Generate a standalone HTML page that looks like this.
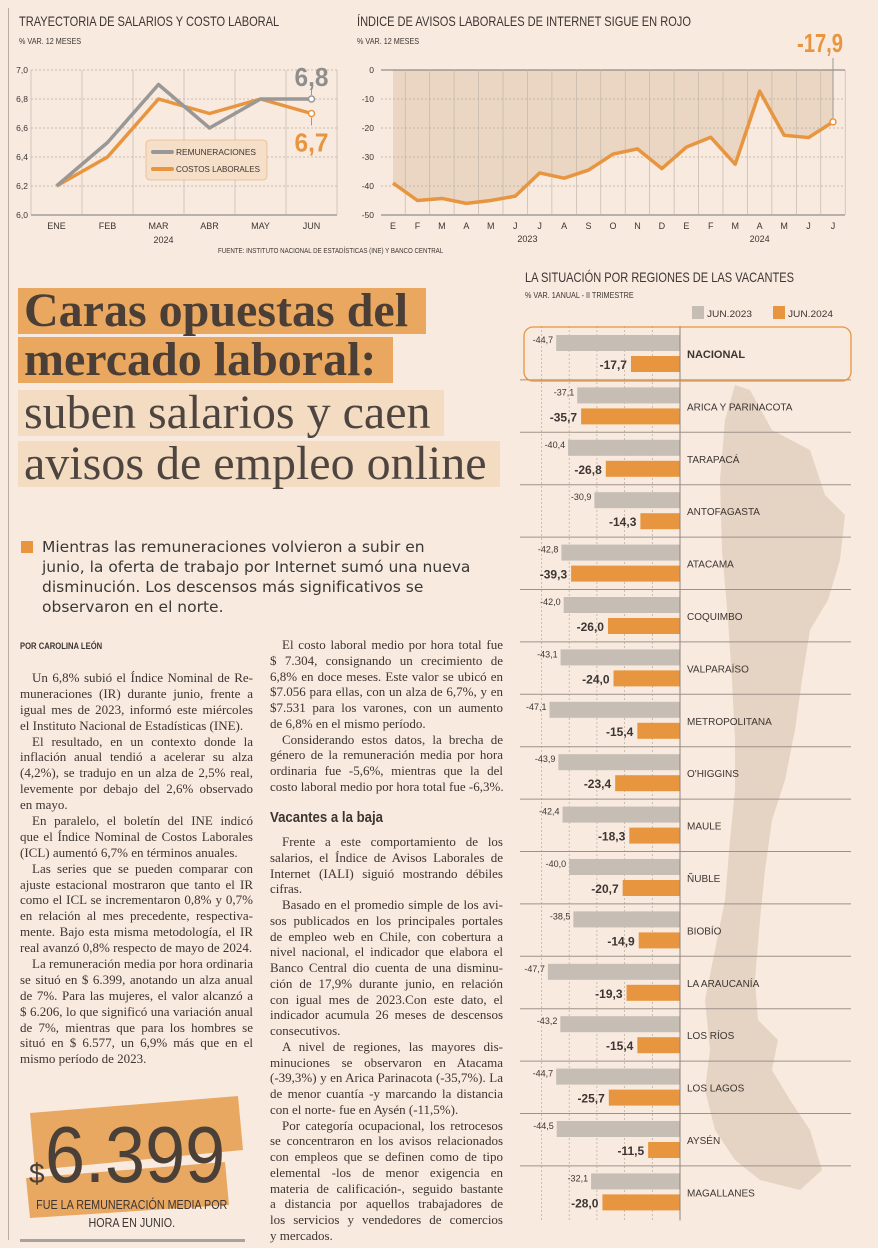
<!DOCTYPE html>
<html lang="es"><head><meta charset="utf-8">
<style>
*{margin:0;padding:0;box-sizing:border-box}
body{width:878px;height:1248px;background:#f8eadf;position:relative;overflow:hidden;font-family:"Liberation Sans",sans-serif;color:#3d3532}
.abs{position:absolute}
.ttl{font-family:"Liberation Sans",sans-serif;font-size:14px;color:#3d3532;white-space:nowrap;transform:scaleX(0.79);transform-origin:0 0}
.sub{font-size:8.5px;color:#3d3532;white-space:nowrap;transform:scaleX(0.85);transform-origin:0 0}
.hl{position:absolute;font-family:"Liberation Serif",serif;font-size:48px;line-height:46px;color:#4a3e36;white-space:nowrap;padding:0 6px}
.col{position:absolute;font-family:"Liberation Serif",serif;font-size:13px;color:#3d3532}
.col div{white-space:nowrap;text-align:justify;text-align-last:justify;height:15.9px;line-height:15.9px}
.col.b div{height:15.75px;line-height:15.75px}
.col div.l{text-align-last:left}
.col div.i{text-indent:12px}
</style></head><body>
<div class="abs" style="left:8px;top:8px;width:1px;height:1232px;background:#b9aca2"></div>

<div class="abs ttl" style="left:19px;top:13px">TRAYECTORIA DE SALARIOS Y COSTO LABORAL</div>
<div class="abs sub" style="left:19px;top:36px">% VAR. 12 MESES</div>
<div class="abs ttl" style="left:357px;top:13px">ÍNDICE DE AVISOS LABORALES DE INTERNET SIGUE EN ROJO</div>
<div class="abs sub" style="left:357px;top:36px">% VAR. 12 MESES</div>
<div class="abs" style="left:218px;top:248px;font-size:7px;white-space:nowrap;transform:scaleX(0.88);transform-origin:0 0">FUENTE: INSTITUTO NACIONAL DE ESTADÍSTICAS (INE) Y BANCO CENTRAL</div>

<svg class="abs" id="c1" style="left:0;top:0" width="350" height="250"></svg>
<svg class="abs" id="c2" style="left:350px;top:0" width="528" height="250"></svg>

<div class="hl" style="left:18px;top:288px;background:#e9a75f;font-weight:bold;width:408px;height:46px">Caras opuestas del</div>
<div class="hl" style="left:18px;top:337px;background:#e9a75f;font-weight:bold;width:375px;height:46px">mercado laboral:</div>
<div class="hl" style="left:18px;top:390px;background:#f4dcc2;width:426px;height:46px;color:#4e4540">suben salarios y caen</div>
<div class="hl" style="left:18px;top:441px;background:#f4dcc2;width:482px;height:46px;color:#4e4540">avisos de empleo online</div>

<div class="abs" style="left:21px;top:541px;width:12px;height:12px;background:#e8953f"></div>
<div class="abs" style="left:42px;top:537px;font-family:'DejaVu Sans',sans-serif;font-size:15.5px;line-height:20px;color:#3c3835;white-space:nowrap">Mientras las remuneraciones volvieron a subir en<br>junio, la oferta de trabajo por Internet sumó una nueva<br>disminución. Los descensos más significativos se<br>observaron en el norte.</div>

<div class="abs" style="left:20px;top:641px;font-size:9px;font-weight:bold;transform:scaleX(0.85);transform-origin:0 0;white-space:nowrap">POR CAROLINA LEÓN</div>

<div class="col" style="left:20px;top:670px;width:233px">
<div class="i">Un 6,8% subió el Índice Nominal de Re-</div>
<div>muneraciones (IR) durante junio, frente a</div>
<div>igual mes de 2023, informó este miércoles</div>
<div class="l">el Instituto Nacional de Estadísticas (INE).</div>
<div class="i">El resultado, en un contexto donde la</div>
<div>inflación anual tendió a acelerar su alza</div>
<div>(4,2%), se tradujo en un alza de 2,5% real,</div>
<div>levemente por debajo del 2,6% observado</div>
<div class="l">en mayo.</div>
<div class="i">En paralelo, el boletín del INE indicó</div>
<div>que el Índice Nominal de Costos Laborales</div>
<div class="l">(ICL) aumentó 6,7% en términos anuales.</div>
<div class="i">Las series que se pueden comparar con</div>
<div>ajuste estacional mostraron que tanto el IR</div>
<div>como el ICL se incrementaron 0,8% y 0,7%</div>
<div>en relación al mes precedente, respectiva-</div>
<div>mente. Bajo esta misma metodología, el IR</div>
<div class="l">real avanzó 0,8% respecto de mayo de 2024.</div>
<div class="i">La remuneración media por hora ordinaria</div>
<div>se situó en $ 6.399, anotando un alza anual</div>
<div>de 7%. Para las mujeres, el valor alcanzó a</div>
<div>$ 6.206, lo que significó una variación anual</div>
<div>de 7%, mientras que para los hombres se</div>
<div>situó en $ 6.577, un 6,9% más que en el</div>
<div class="l">mismo período de 2023.</div>
</div>

<div class="col b" style="left:270px;top:637px;width:233px">
<div class="i">El costo laboral medio por hora total fue</div>
<div>$ 7.304, consignando un crecimiento de</div>
<div>6,8% en doce meses. Este valor se ubicó en</div>
<div>$7.056 para ellas, con un alza de 6,7%, y en</div>
<div>$7.531 para los varones, con un aumento</div>
<div class="l">de 6,8% en el mismo período.</div>
<div class="i">Considerando estos datos, la brecha de</div>
<div>género de la remuneración media por hora</div>
<div>ordinaria fue -5,6%, mientras que la del</div>
<div class="l">costo laboral medio por hora total fue -6,3%.</div>
</div>
<div class="abs" style="left:270px;top:809px;font-size:15px;font-weight:bold;transform:scaleX(0.88);transform-origin:0 0;white-space:nowrap">Vacantes a la baja</div>
<div class="col b" style="left:270px;top:834px;width:233px">
<div class="i">Frente a este comportamiento de los</div>
<div>salarios, el Índice de Avisos Laborales de</div>
<div>Internet (IALI) siguió mostrando débiles</div>
<div class="l">cifras.</div>
<div class="i">Basado en el promedio simple de los avi-</div>
<div>sos publicados en los principales portales</div>
<div>de empleo web en Chile, con cobertura a</div>
<div>nivel nacional, el indicador que elabora el</div>
<div>Banco Central dio cuenta de una disminu-</div>
<div>ción de 17,9% durante junio, en relación</div>
<div>con igual mes de 2023.Con este dato, el</div>
<div>indicador acumula 26 meses de descensos</div>
<div class="l">consecutivos.</div>
<div class="i">A nivel de regiones, las mayores dis-</div>
<div>minuciones se observaron en Atacama</div>
<div>(-39,3%) y en Arica Parinacota (-35,7%). La</div>
<div>de menor cuantía -y marcando la distancia</div>
<div class="l">con el norte- fue en Aysén (-11,5%).</div>
<div class="i">Por categoría ocupacional, los retrocesos</div>
<div>se concentraron en los avisos relacionados</div>
<div>con empleos que se definen como de tipo</div>
<div>elemental -los de menor exigencia en</div>
<div>materia de calificación-, seguido bastante</div>
<div>a distancia por aquellos trabajadores de</div>
<div>los servicios y vendedores de comercios</div>
<div class="l">y mercados.</div>
</div>

<svg class="abs" style="left:0;top:1090px" width="260" height="140">
<polygon points="30,23 238,6 243,60 35,80" fill="#e9a862"/>
<polygon points="26,88 225,72 229,115 30,128" fill="#e9a862"/>
</svg>
<div class="abs" style="left:29px;top:1158px;font-size:28px;color:#4a4038">$</div>
<div class="abs" style="left:45px;top:1115px;font-size:80px;line-height:80px;color:#4a4038;white-space:nowrap;transform:scaleX(0.9);transform-origin:0 0">6.399</div>
<div class="abs" style="left:32px;top:1196px;width:232px;text-align:center;font-size:12.5px;line-height:18px;color:#3d3532;white-space:nowrap;transform:scaleX(0.86);transform-origin:0 0">FUE LA REMUNERACIÓN MEDIA POR<br>HORA EN JUNIO.</div>
<div class="abs" style="left:20px;top:1239px;width:225px;height:3px;background:#a9a29c"></div>

<div class="abs ttl" style="left:525px;top:269px">LA SITUACIÓN POR REGIONES DE LAS VACANTES</div>
<div class="abs sub" style="left:525px;top:290px">% VAR. 1ANUAL -  II TRIMESTRE</div>
<svg class="abs" id="c3" style="left:510px;top:300px" width="368" height="930"></svg>

<script>
const NS="http://www.w3.org/2000/svg";
function mk(p,tag,a,txt){const e=document.createElementNS(NS,tag);for(const k in a)e.setAttribute(k,a[k]);if(txt!==undefined)e.textContent=txt;p.appendChild(e);return e;}

const c1Months=["ENE","FEB","MAR","ABR","MAY","JUN"];
const c1Rem=[6.2,6.5,6.9,6.6,6.8,6.8];
const c1Cost=[6.2,6.4,6.8,6.7,6.8,6.7];
const c1Ticks=[6.0,6.2,6.4,6.6,6.8,7.0];

const c2Months=["E","F","M","A","M","J","J","A","S","O","N","D","E","F","M","A","M","J","J"];
const c2Vals=[-39,-45,-44.3,-46,-45,-43.5,-35.5,-37.3,-34.5,-29,-27.2,-34,-26.6,-23.2,-32.5,-7.3,-22.5,-23.3,-17.9];
const c2Ticks=[0,-10,-20,-30,-40,-50];

const regions=["NACIONAL","ARICA Y PARINACOTA","TARAPACÁ","ANTOFAGASTA","ATACAMA","COQUIMBO","VALPARAÍSO","METROPOLITANA","O'HIGGINS","MAULE","ÑUBLE","BIOBÍO","LA ARAUCANÍA","LOS RÍOS","LOS LAGOS","AYSÉN","MAGALLANES"];
const jun2023=[-44.7,-37.1,-40.4,-30.9,-42.8,-42.0,-43.1,-47.1,-43.9,-42.4,-40.0,-38.5,-47.7,-43.2,-44.7,-44.5,-32.1];
const jun2024=[-17.7,-35.7,-26.8,-14.3,-39.3,-26.0,-24.0,-15.4,-23.4,-18.3,-20.7,-14.9,-19.3,-15.4,-25.7,-11.5,-28.0];
const c3Grid=[-10,-20,-30,-40,-50];

const fmt=v=>v.toFixed(1).replace(".",",");

(function(){
 const s=document.getElementById("c1");
 const L=31,R=337,T=70,B=215,step=(R-L)/c1Months.length;
 const x=i=>L+step*(i+0.5), y=v=>B-(v-6.0)/1.0*(B-T);
 c1Ticks.forEach(t=>{
  const g=mk(s,"line",{x1:L,x2:R,y1:y(t),y2:y(t),stroke:t===6.0?"#777":"#b5aaa0","stroke-width":t===6.0?1:0.7,"stroke-dasharray":t===6.0?"":"2,2"});
  
  
  const tl=mk(s,"text",{x:L-3,y:y(t)+3,"text-anchor":"end","font-size":"8.5","fill":"#3d3532","font-family":"Liberation Sans"},fmt(t));
  
  
 });
 for(let i=0;i<=c1Months.length;i++){
  const v=mk(s,"line",{x1:L+step*i,x2:L+step*i,y1:T,y2:B,stroke:"#c2b7ad","stroke-width":0.7});
  
  
 }
 c1Months.forEach((m,i)=>{
  const t=mk(s,"text",{x:x(i),y:B+14,"text-anchor":"middle","font-size":"9","fill":"#3d3532","font-family":"Liberation Sans"},m);
  
  
 });
 const yr=mk(s,"text",{x:x(2)+5,y:B+28,"text-anchor":"middle","font-size":"9","fill":"#3d3532","font-family":"Liberation Sans"},"2024");
 
 
 const lg=mk(s,"rect",{x:146,y:140,width:121,height:40,rx:4,fill:"#f6dfc8",stroke:"#e8b98a","stroke-width":0.8});
 
 
 const l1=mk(s,"line",{x1:153,x2:172,y1:152,y2:152,stroke:"#9a9896","stroke-width":4,"stroke-linecap":"round"});
 
 
 const t1=mk(s,"text",{x:176,y:155,"font-size":"8.5","fill":"#3d3532","font-family":"Liberation Sans",textLength:80,lengthAdjust:"spacingAndGlyphs"},"REMUNERACIONES");
 
 
 const l2=mk(s,"line",{x1:153,x2:172,y1:169,y2:169,stroke:"#e8953f","stroke-width":4,"stroke-linecap":"round"});
 
 
 const t2=mk(s,"text",{x:176,y:172,"font-size":"8.5","fill":"#3d3532","font-family":"Liberation Sans",textLength:84,lengthAdjust:"spacingAndGlyphs"},"COSTOS LABORALES");
 
 
 const pc=mk(s,"polyline",{points:c1Cost.map((v,i)=>x(i)+","+y(v)).join(" "),fill:"none",stroke:"#e8953f","stroke-width":3.5,"stroke-linejoin":"round"});
 
 
 const pr=mk(s,"polyline",{points:c1Rem.map((v,i)=>x(i)+","+y(v)).join(" "),fill:"none",stroke:"#9a9896","stroke-width":3.5,"stroke-linejoin":"round"});
 
 
 const n=c1Months.length-1;
 const d1=mk(s,"circle",{cx:x(n),cy:y(c1Rem[n]),r:3,fill:"#fff",stroke:"#9a9896","stroke-width":1.5});
 
 
 const d2=mk(s,"circle",{cx:x(n),cy:y(c1Cost[n]),r:3,fill:"#fff",stroke:"#e8953f","stroke-width":1.5});
 
 
 mk(s,"line",{x1:x(n),x2:x(n),y1:y(c1Rem[n])-4,y2:y(c1Rem[n])-10,stroke:"#9a9896","stroke-width":1});
 mk(s,"line",{x1:x(n),x2:x(n),y1:y(c1Cost[n])+4,y2:y(c1Cost[n])+12,stroke:"#9a9896","stroke-width":1});
 const v1=mk(s,"text",{x:x(n),y:y(c1Rem[n])-13,"text-anchor":"middle","font-size":"26","font-weight":"bold","fill":"#8f8e8c","font-family":"Liberation Sans",textLength:34,lengthAdjust:"spacingAndGlyphs"},fmt(c1Rem[n]));
 
 
 const v2=mk(s,"text",{x:x(n),y:y(c1Cost[n])+38,"text-anchor":"middle","font-size":"26","font-weight":"bold","fill":"#e8953f","font-family":"Liberation Sans",textLength:34,lengthAdjust:"spacingAndGlyphs"},fmt(c1Cost[n]));
 
 
})();

(function(){
 const s=document.getElementById("c2");
 const L=31,R=495,T=70,B=215,n=c2Months.length;
 const x0=43,x1=483,step=(x1-x0)/(n-1);
 const x=i=>x0+step*i, y=v=>T+(0-v)/50*(B-T);
 const area=mk(s,"polygon",{points:[x(0)+","+y(0)].concat(c2Vals.map((v,i)=>x(i)+","+y(v))).concat([x(n-1)+","+y(0)]).join(" "),fill:"#ead6c2"});
 
 
 c2Ticks.forEach(t=>{
  const g=mk(s,"line",{x1:L,x2:R,y1:y(t),y2:y(t),stroke:t===0||t===-50?"#777":"#b5aaa0","stroke-width":t===0||t===-50?1:0.7,"stroke-dasharray":t===0||t===-50?"":"2,2"});
  
  
  const tl=mk(s,"text",{x:L-7,y:y(t)+3,"text-anchor":"end","font-size":"8.5","fill":"#3d3532","font-family":"Liberation Sans"},String(t));
  
  
 });
 for(let i=0;i<n;i++){
  const v=mk(s,"line",{x1:x(i)+step/2,x2:x(i)+step/2,y1:T,y2:B,stroke:"#c2b7ad","stroke-width":0.7});
  
  
 }
 c2Months.forEach((m,i)=>{
  const t=mk(s,"text",{x:x(i),y:B+14,"text-anchor":"middle","font-size":"9","fill":"#3d3532","font-family":"Liberation Sans"},m);
  
  
 });
 const y1=mk(s,"text",{x:x(5.5),y:B+27,"text-anchor":"middle","font-size":"9","fill":"#3d3532","font-family":"Liberation Sans"},"2023");
 
 
 const y2=mk(s,"text",{x:x(15),y:B+27,"text-anchor":"middle","font-size":"9","fill":"#3d3532","font-family":"Liberation Sans"},"2024");
 
 
 const ln=mk(s,"polyline",{points:c2Vals.map((v,i)=>x(i)+","+y(v)).join(" "),fill:"none",stroke:"#e8953f","stroke-width":3.5,"stroke-linejoin":"round"});
 
 
 const last=c2Vals[n-1];
 mk(s,"line",{x1:x(n-1),x2:x(n-1),y1:y(last)-4,y2:58,stroke:"#9a9896","stroke-width":1});
 const d=mk(s,"circle",{cx:x(n-1),cy:y(last),r:3,fill:"#fff",stroke:"#e8953f","stroke-width":1.5});
 
 
 const lv=mk(s,"text",{x:x(n-1)+10,y:52,"text-anchor":"end","font-size":"26","font-weight":"bold","fill":"#e8953f","font-family":"Liberation Sans",textLength:46,lengthAdjust:"spacingAndGlyphs"},fmt(last));
 
 
})();

(function(){
 const s=document.getElementById("c3");
 const OX=-510, OY=-300;
 const zero=680+OX, k=2.77;
 const xv=v=>zero+v*k;
 const rowC=i=>354+OY+i*52.4;
 const map=mk(s,"polygon",{points:"225,85 240,90 262,130 300,150 315,195 335,215 330,260 318,300 300,330 292,380 285,430 275,480 262,520 255,570 250,620 245,680 248,720 268,740 262,770 280,800 300,830 312,870 290,890 250,880 225,860 205,830 195,790 200,750 195,700 205,650 215,600 220,540 225,490 225,440 222,380 218,320 212,250 210,180 215,120","fill":"#e5d4c3"});
 
 
 const lg1=mk(s,"rect",{x:692+OX,y:306+OY,width:12,height:13,fill:"#c6bdb4"});
 
 
 const lt1=mk(s,"text",{x:707+OX,y:317+OY,"font-size":"9.5","fill":"#3d3532","font-family":"Liberation Sans",textLength:45,lengthAdjust:"spacingAndGlyphs"},"JUN.2023");
 
 
 const lg2=mk(s,"rect",{x:773+OX,y:306+OY,width:12,height:13,fill:"#e8953f"});
 
 
 const lt2=mk(s,"text",{x:788+OX,y:317+OY,"font-size":"9.5","fill":"#3d3532","font-family":"Liberation Sans",textLength:45,lengthAdjust:"spacingAndGlyphs"},"JUN.2024");
 
 
 const top=326+OY, bot=rowC(regions.length-1)+28;
 c3Grid.forEach(g=>{
  const l=mk(s,"line",{x1:xv(g),x2:xv(g),y1:top,y2:bot,stroke:"#b5aaa0","stroke-width":0.7,"stroke-dasharray":"2,2"});
  
  
 });
 regions.forEach((r,i)=>{
  const c=rowC(i);
  if(i>0){
   const sep=mk(s,"line",{x1:520+OX,x2:851+OX,y1:c-26.5,y2:c-26.5,stroke:"#9d928a","stroke-width":1});
   
   
  }
  const g=mk(s,"rect",{x:xv(jun2023[i]),y:c-19,width:zero-xv(jun2023[i]),height:16,fill:"#c6bdb4"});
  
  
  const o=mk(s,"rect",{x:xv(jun2024[i]),y:c+2,width:zero-xv(jun2024[i]),height:16,fill:"#e8953f"});
  
  
  const gt=mk(s,"text",{x:xv(jun2023[i])-3,y:c-11,"text-anchor":"end","font-size":"9","fill":"#3d3532","font-family":"Liberation Sans"},fmt(jun2023[i]));
  
  
  const ot=mk(s,"text",{x:xv(jun2024[i])-4,y:c+15,"text-anchor":"end","font-size":"12","font-weight":"bold","fill":"#3d3532","font-family":"Liberation Sans"},fmt(jun2024[i]));
  
  
  const rl=mk(s,"text",{x:687+OX,y:c+4,"font-size":i===0?"11":"10","font-weight":i===0?"bold":"normal","fill":"#3d3532","font-family":"Liberation Sans"},r);
  
  
 });
 const z=mk(s,"line",{x1:zero,x2:zero,y1:top,y2:bot,stroke:"#8d837b","stroke-width":1});
 
 
 const box=mk(s,"rect",{x:524+OX,y:327+OY,width:327,height:54,rx:9,fill:"none",stroke:"#e8953f","stroke-width":1.3});
 
 
})();
</script>
</body></html>
